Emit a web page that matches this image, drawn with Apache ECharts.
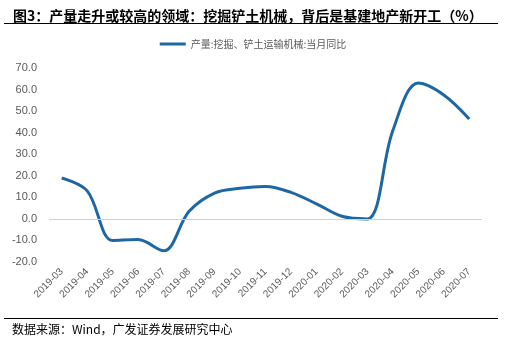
<!DOCTYPE html>
<html><head><meta charset="utf-8">
<script src="https://cdn.jsdelivr.net/npm/echarts@6/dist/echarts.min.js"></script>
<style>html,body{margin:0;padding:0;background:#fff}#c{width:506px;height:343px}</style>
</head><body><div id="c"></div>
<script>
const categories = ['2019-03','2019-04','2019-05','2019-06','2019-07','2019-08','2019-09','2019-10','2019-11','2019-12','2020-01','2020-02','2020-03','2020-04','2020-05','2020-06','2020-07'];
const seriesName = '产量:挖掘、铲土运输机械:当月同比';
const values = [19.0, 13.0, -10.0, -9.6, -14.8, 3.5, 12.0, 14.2, 15.0, 12.3, 7.0, 1.2, 0.0, 41.0, 63.0, 57.5, 46.3];
const yTicks = {min: -20, max: 70, interval: 10};
const titleText = '图3：产量走升或较高的领域：挖掘铲土机械，背后是基建地产新开工（%）';
const sourceText = '数据来源：Wind，广发证券发展研究中心';

const chart = echarts.init(document.getElementById('c'));
const cjk = '"Noto Sans CJK SC", sans-serif';
const lat = '"Liberation Sans", Arial, sans-serif';
chart.setOption({
  animation: false,
  title: {text: titleText, left: 8, top: 4, textStyle: {fontFamily: cjk, fontSize: 14, fontWeight: 'bold', color: '#000'}},
  legend: {top: 34, left: 'center', itemWidth: 26, itemHeight: 3, icon: 'rect', itemGap: 4,
    textStyle: {fontFamily: cjk, fontSize: 10, color: '#595959'}, data: [seriesName]},
  grid: {left: 49, right: 24, top: 68, bottom: 81},
  xAxis: {type: 'category', data: categories, boundaryGap: true,
    axisLine: {show: false, onZero: false}, axisTick: {show: false},
    axisLabel: {rotate: 45, interval: 0, fontFamily: lat, fontSize: 10, color: '#595959', margin: 8}},
  yAxis: {type: 'value', min: yTicks.min, max: yTicks.max, interval: yTicks.interval,
    axisLine: {show: false}, axisTick: {show: false}, splitLine: {show: false},
    axisLabel: {formatter: v => v.toFixed(1), fontFamily: lat, fontSize: 11, color: '#595959', margin: 12}},
  series: [{name: seriesName, type: 'line', data: values, smooth: 0.35, symbol: 'none',
    lineStyle: {color: '#1f67a3', width: 3}, itemStyle: {color: '#1f67a3'},
    markLine: {silent: true, symbol: 'none', label: {show: false}, lineStyle: {color: '#d0d0d0', width: 1, type: 'solid'}, data: [{yAxis: 0}]}}],
  graphic: [
    {type: 'rect', shape: {x: 4, y: 23, width: 494, height: 1}, style: {fill: '#000'}},
    {type: 'rect', shape: {x: 4, y: 318, width: 494, height: 1}, style: {fill: '#000'}},
    {type: 'text', left: 12, top: 323, style: {text: sourceText, font: '12px ' + cjk, fill: '#000'}}
  ]
});
</script></body></html>
